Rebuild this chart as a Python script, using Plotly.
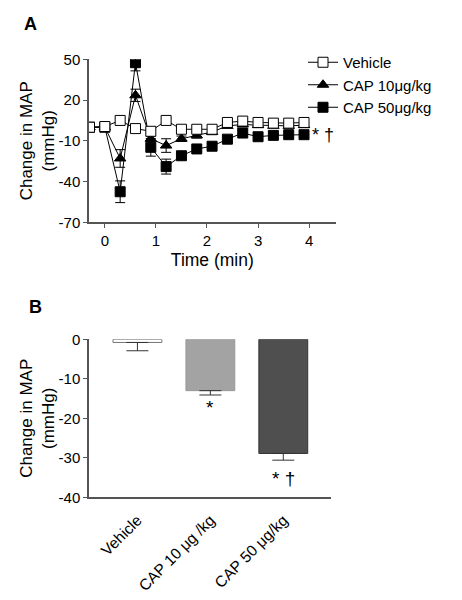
import plotly.graph_objects as go

# ---------- Panel A data ----------
time_min = [-0.3, 0.0, 0.3, 0.6, 0.9, 1.2, 1.5, 1.8, 2.1, 2.4, 2.7, 3.0, 3.3, 3.6, 3.9]
vehicle = [0, 0.5, 5, -1, -3, 5, -1.5, -1.5, -1.5, 3.5, 4.5, 3.5, 3, 3, 3.5]
vehicle_err = [1.5, 1.5, 1.5, 1.5, 1.5, 1.5, 1.5, 1.5, 1.5, 1.5, 1.5, 1.5, 1.5, 1.5, 1.5]
cap10 = [0, 0, -23, 23.5, -8.5, -13.5, -8.5, -6, -3.5, 1, 2, 1.5, 1, 1, 1.5]
cap10_err = [1, 1, 6.5, 4.5, 2, 5, 2, 2, 2, 1.5, 1.5, 1.5, 1.5, 1.5, 1.5]
cap50 = [0, 0, -47.5, 47.5, -14.8, -29, -21, -16, -14, -8.8, -4.3, -7, -6, -5.5, -5.5]
cap50_err = [1, 1, 8, 6, 6.5, 5.5, 2.5, 2, 2, 2, 2, 2, 2, 2, 2]
a_xticks = [0, 1, 2, 3, 4]
a_yticks = [-70, -40, -10, 20, 50]
a_yticklabels = ["-70", "-40", "-10", "20", "50"]

# ---------- Panel B data ----------
groups = ["Vehicle", "CAP 10 μg /kg", "CAP 50 μg/kg"]
group_pos = [0, 1, 2]
mean_change = [-0.8, -13.0, -28.9]
mean_err = [2.1, 1.1, 1.7]
bar_colors = ["#ffffff", "#a3a3a3", "#4f4f4f"]
bar_lines = ["#777777", "#999999", "#333333"]
sig_labels = ["", "*", "* †"]
sig_y = [0, -17.3, -35.3]
b_yticks = [-40, -30, -20, -10, 0]
b_yticklabels = ["-40", "-30", "-20", "-10", "0"]

FONT = "Liberation Sans, Arial, sans-serif"
AX = "#555555"
W, H = 454, 592   # page body has an 8px margin


def px_x(p):
    return (p - 8) / W


def px_y(p):
    return 1 - (p - 8) / H


fig = go.Figure()


def add_series(name, y, err, symbol, fill):
    fig.add_trace(go.Scatter(
        x=time_min, y=y, name=name, mode="lines+markers",
        line=dict(color="black", width=1),
        marker=dict(symbol=symbol, size=10, color=fill,
                    line=dict(color="black", width=1)),
        error_y=dict(type="data", array=err, visible=True,
                     color="black", thickness=1, width=5),
        xaxis="x", yaxis="y",
    ))


add_series("CAP 50μg/kg", cap50, cap50_err, "square", "black")
add_series("CAP 10μg/kg", cap10, cap10_err, "triangle-up", "black")
add_series("Vehicle", vehicle, vehicle_err, "square", "white")

fig.add_trace(go.Bar(
    x=group_pos, y=mean_change, width=0.67,
    marker=dict(color=bar_colors, line=dict(color=bar_lines, width=1)),
    error_y=dict(type="data", symmetric=False,
                 array=[0, 0, 0], arrayminus=mean_err,
                 color="#333333", thickness=1, width=11),
    xaxis="x2", yaxis="y2", showlegend=False,
))

fig.update_layout(
    width=W, height=H,
    margin=dict(l=0, r=0, t=0, b=0, autoexpand=False),
    paper_bgcolor="white", plot_bgcolor="white",
    font=dict(family=FONT, color="black", size=15),
    showlegend=True,
    legend=dict(x=px_x(303), y=px_y(46), xanchor="left", yanchor="top",
                traceorder="reversed", bgcolor="rgba(0,0,0,0)",
                font=dict(size=15), itemwidth=30, tracegroupgap=0),
    xaxis=dict(domain=[px_x(89), px_x(335.7)], range=[-0.31, 4.52],
               tickvals=a_xticks, showgrid=False, zeroline=False,
               showline=True, linecolor=AX, linewidth=1.5,
               ticks="outside", ticklen=4, tickcolor=AX,
               tickfont=dict(size=15),
               title=dict(text="Time (min)", font=dict(size=17.5), standoff=6),
               anchor="y", automargin=False),
    yaxis=dict(domain=[px_y(222.3), px_y(59.3)], range=[-70, 50],
               tickvals=a_yticks, ticktext=a_yticklabels,
               showgrid=False, zeroline=False,
               showline=True, linecolor=AX, linewidth=1.5,
               ticks="outside", ticklen=4, tickcolor=AX,
               tickfont=dict(size=15),
               title=dict(text="Change in MAP<br>(mmHg)", font=dict(size=17), standoff=0),
               anchor="x", automargin=False),
    xaxis2=dict(domain=[px_x(89), px_x(330.7)], range=[-0.664, 2.65],
                tickvals=group_pos, ticktext=groups, tickangle=-45,
                showgrid=False, zeroline=False,
                showline=True, linecolor=AX, linewidth=1.5,
                ticks="outside", ticklen=6, tickcolor="rgba(0,0,0,0)",
                tickfont=dict(size=15.5), anchor="y2", automargin=False),
    yaxis2=dict(domain=[px_y(497.3), px_y(339.3)], range=[-40, 0],
                tickvals=b_yticks, ticktext=b_yticklabels,
                showgrid=False, zeroline=False,
                showline=True, linecolor=AX, linewidth=1.5,
                ticks="outside", ticklen=4, tickcolor=AX,
                tickfont=dict(size=15),
                title=dict(text="Change in MAP<br>(mmHg)", font=dict(size=17), standoff=0),
                anchor="x2", automargin=False),
)

annotations = [
    dict(text="<b>A</b>", x=px_x(30), y=px_y(24), xref="paper", yref="paper",
         xanchor="center", yanchor="middle",
         showarrow=False, font=dict(size=18, color="black")),
    dict(text="<b>B</b>", x=px_x(35), y=px_y(307), xref="paper", yref="paper",
         xanchor="center", yanchor="middle",
         showarrow=False, font=dict(size=18, color="black")),
    dict(text="* †", x=4.27, y=-6, xref="x", yref="y", showarrow=False,
         xanchor="center", yanchor="middle",
         font=dict(size=18, color="black")),
]
for pos, lab, yy in zip(group_pos, sig_labels, sig_y):
    if lab:
        annotations.append(dict(text=lab, x=pos, y=yy, xref="x2", yref="y2",
                                xanchor="center", yanchor="middle",
                                showarrow=False, font=dict(size=19, color="black")))
fig.update_layout(annotations=annotations)

fig.write_html("out.html")
